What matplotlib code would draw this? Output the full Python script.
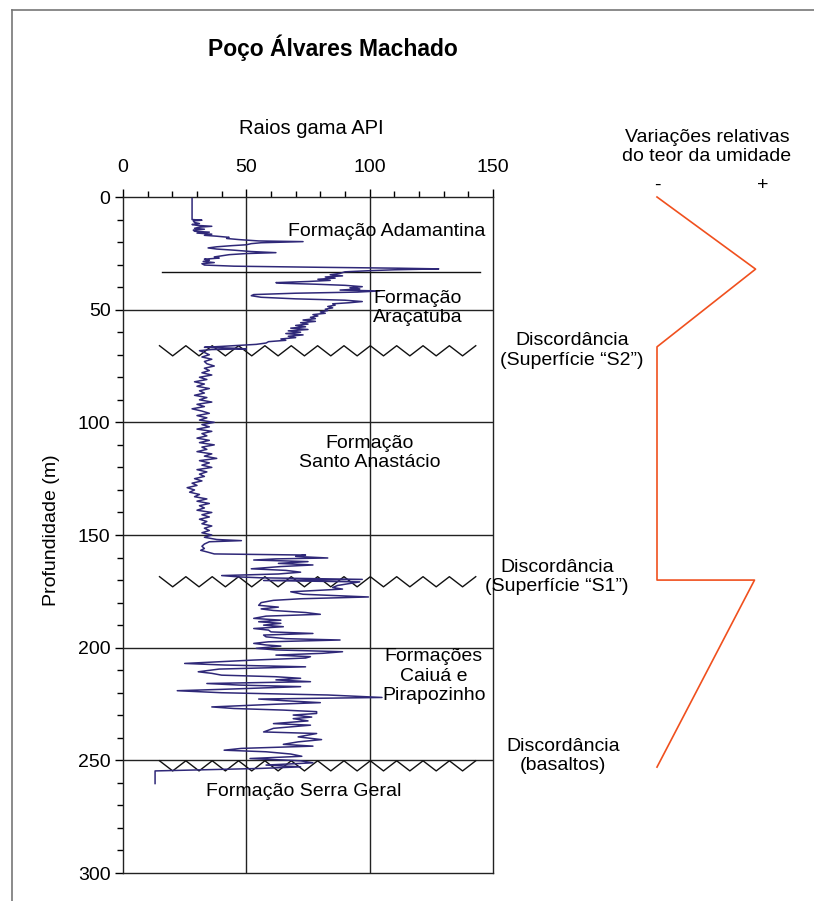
import numpy as np
import matplotlib
matplotlib.use("Agg")
import matplotlib.pyplot as plt
from matplotlib.lines import Line2D

plt.rcParams['font.family'] = ['Liberation Sans', 'DejaVu Sans']

# --- gamma-ray log (depth m, API) ---
depth_adamantina = [0.7, 10.0, 10.3, 10.6, 11.3, 11.8, 12.2, 12.6, 13.0, 13.4, 13.9, 14.3,
                    14.7, 15.2, 15.6, 16.0, 16.5, 17.0, 17.4, 17.9, 18.4, 18.9, 19.5, 19.8,
                    20.3, 20.7, 21.2, 21.6, 22.1, 22.6, 23.1, 23.6, 24.2, 24.7, 25.1, 25.6,
                    26.1, 26.6, 27.1, 27.6, 28.1, 28.6, 29.1, 29.6, 30.2, 30.7, 31.2, 31.6,
                    31.9, 32.3, 32.7, 33.2]
gr_adamantina = [28, 28, 32, 28.5, 29, 31, 28, 30, 36, 31, 29, 33,
                 28.5, 29, 35, 30, 36, 33, 38, 43, 42, 47, 55, 73,
                 56, 52, 50, 44, 38, 34.5, 38, 45, 52, 62, 50, 43,
                 40, 37, 39, 33, 35, 32.5, 37, 32, 33, 45, 80, 112,
                 128, 110, 100, 90]

depth_aracatuba = [33.9, 34.5, 35.0, 35.5, 36.0, 36.5, 37.0, 37.5, 38.0, 38.3, 38.7, 39.2,
                   39.8, 40.3, 40.8, 41.3, 41.7, 42.2, 42.7, 43.3, 43.8, 44.5, 45.2, 45.8,
                   46.4, 46.9, 47.4, 48.0, 48.6, 49.2, 49.8, 50.4, 51.0, 51.6, 52.2, 52.8,
                   53.4, 54.0, 54.6, 55.2, 55.8, 56.4, 57.0, 57.6, 58.2, 58.8, 59.4, 60.0,
                   60.6, 61.2, 61.8, 62.4, 63.0, 63.6, 64.2, 64.8, 65.4, 65.8, 66.3, 66.7,
                   67.1, 67.4, 67.7, 68.2]
gr_aracatuba = [88, 84, 89, 82, 86, 79, 84, 75, 62, 65, 78, 90,
                97, 92, 96, 88, 104, 95, 70, 53, 52, 56, 70, 90,
                97, 92, 85, 86, 83, 85, 82, 83, 80, 82, 77, 79,
                76, 78, 73, 78, 72, 75, 70, 74, 68, 75, 67, 72,
                66, 73, 67, 70, 64, 66, 59, 58, 54, 48, 40, 33,
                45, 50, 36, 31]

depth_santo = [69, 70, 71, 72, 73, 74, 75, 76, 77, 78, 79, 80, 81, 82, 83, 84, 85, 86,
               87, 88, 89, 90, 91, 92, 93, 94, 95, 96, 97, 98, 99, 100, 101, 102, 103,
               104, 105, 106, 107, 108, 109, 110, 111, 112, 113, 114, 115, 116, 117, 118,
               119, 120, 121, 122, 123, 124, 125, 126, 127, 128, 129, 130, 131, 132, 133,
               134, 135, 136, 137, 138, 139, 140, 141, 142, 143, 144, 145, 146, 147, 148,
               149, 150, 151, 152, 152.5, 153, 154]
gr_santo = [33, 35, 32, 36, 33, 34, 37, 33, 35, 32, 36, 31, 34, 29, 33, 30, 35, 31,
            33, 29, 34, 31, 36, 30, 33, 28, 32, 35, 30, 34, 31, 37, 32, 35, 30,
            36, 32, 34, 30, 35, 31, 37, 32, 34, 30, 36, 33, 38, 31, 35,
            32, 36, 30, 34, 31, 33, 29, 32, 28, 30, 26, 29, 27, 31, 29,
            34, 30, 35, 31, 33, 30, 36, 32, 35, 31, 34, 32, 36, 33, 35,
            32, 36, 33, 38, 48, 35, 33]

depth_caiua = [155.0, 156.0, 156.8, 157.5, 158.4, 158.9, 159.5, 160.2, 160.6, 161.1, 161.8,
               162.6, 163.3, 164.0, 165.0, 165.7, 166.5, 167.3, 168.0, 168.6, 169.0, 169.7,
               170.2, 170.8, 171.5, 172.4, 173.3, 174.0, 175.2, 176.3, 177.5, 178.3, 179.0,
               180.0, 181.2, 182.0, 182.8, 183.5, 184.4, 185.2, 186.0, 187.0, 187.8,
               188.5, 189.2, 190.0, 190.7, 191.5, 192.2, 193.0, 193.7, 194.4, 195.2, 196.0,
               196.6, 197.4, 198.1, 198.8, 199.3, 200.3, 201.0, 201.8, 202.5, 203.3, 204.0,
               204.6, 205.5, 206.2, 207.0, 207.7, 208.5, 209.5, 210.7, 211.4, 212.2, 212.9,
               213.6, 214.3, 215.1, 215.9, 216.6, 217.3, 218.5, 219.1, 220.0, 221.0, 222.1,
               222.8, 223.5, 224.4, 225.1, 226.3, 227.0, 227.7, 228.4, 229.2, 229.9, 230.8,
               231.5, 232.5, 233.7, 234.4, 235.8, 237.4, 238.1, 239.6, 240.8, 241.8, 242.9,
               243.7, 244.7, 245.5, 246.2, 247.2, 248.2, 249.2, 250.2, 251.1, 252.1, 252.9,
               253.6]
gr_caiua = [32, 33, 31.5, 34, 37, 74, 70, 83, 62, 53, 75,
            63, 77, 64, 52, 66, 72, 63, 40, 47, 56, 97,
            57, 96, 92, 87, 85, 89, 68, 73, 99.5, 72, 61,
            56, 55, 63, 56, 61, 74, 80, 58, 53, 64,
            55, 64, 57, 65, 53, 59, 60, 77, 57, 58, 66,
            88, 59, 53, 58, 64, 54, 62, 89, 81, 62, 76,
            74, 53, 40, 25, 41, 74, 39, 30.5, 36, 40, 62,
            72, 62, 76, 34, 47, 72, 40, 22, 40, 83, 105,
            55, 65, 80, 62, 36, 45, 65, 78.5, 78.5, 69, 76.5,
            69, 75, 61, 76, 61, 57, 78.5, 71, 80.5, 71, 65,
            77, 48, 41, 58, 68, 72.5, 51.5, 72, 77, 58, 72,
            55.5]

depth_serra = [254.7, 260.3]
gr_serra = [13, 13]

# --- relative moisture variation (0 = "-", 1 = "+") ---
moist_depth = [0, 32, 66.5, 170, 170, 253]
moist_value = [0, 0.93, 0, 0, 0.92, 0]

# boundaries
contact_depth = 33.1
unconformity_depths = [66.0, 168.5, 250.2]

W, H = 814, 901
fig = plt.figure(figsize=(W / 100, H / 100), dpi=100)


def fx(px):
    return px / W


def fy(py):
    return 1 - py / H


ax = fig.add_axes([fx(123), fy(873), fx(493) - fx(123), fy(197) - fy(873)])

depth = depth_adamantina + depth_aracatuba + depth_santo + depth_caiua + depth_serra
gr = gr_adamantina + gr_aracatuba + gr_santo + gr_caiua + gr_serra
ax.plot(gr, depth, color='#2f2878', lw=1.1, zorder=3)

ax.set_xlim(0, 150)
ax.set_ylim(300, 0)

# grid
for d in [50, 100, 150, 200, 250]:
    ax.axhline(d, color='#222222', lw=1.0, zorder=1)
for g in [50, 100]:
    ax.axvline(g, color='#222222', lw=1.0, zorder=1)

# contact line and unconformity zigzags
ax.plot([15.7, 144.7], [contact_depth, contact_depth], color='#111111', lw=1.0, zorder=2)
zx = np.linspace(14.8, 143.0, 25)
for d in unconformity_depths:
    zy = np.where(np.arange(25) % 2 == 0, d, d + 4.5)
    ax.plot(zx, zy, color='#111111', lw=1.0, zorder=2)

# axes styling
ax.xaxis.tick_top()
ax.set_xticks([0, 50, 100, 150])
ax.set_xticks(np.arange(0, 151, 10), minor=True)
ax.set_yticks([0, 50, 100, 150, 200, 250, 300])
ax.set_yticks(np.arange(0, 301, 10), minor=True)
ax.tick_params(axis='x', which='major', length=6, width=1, pad=9, labelsize=14)
ax.tick_params(axis='x', which='minor', length=4, width=1)
ax.tick_params(axis='y', which='major', length=6, width=1, pad=3, labelsize=14)
ax.tick_params(axis='y', which='minor', length=4, width=1)
for s in ax.spines.values():
    s.set_color('#222222')
    s.set_linewidth(1.0)

# labels inside the log
txt = dict(fontsize=14, ha='center', va='center', linespacing=1.2, zorder=4)
ax.text(107, 15.1, 'Formação Adamantina', **txt)
ax.text(119.6, 49.3, 'Formação\nAraçatuba', **txt)
ax.text(100, 113.6, 'Formação\nSanto Anastácio', **txt)
ax.text(126, 212.6, 'Formações\nCaiuá e\nPirapozinho', **txt)
ax.text(73.4, 264, 'Formação Serra Geral', **txt)
ax.text(182, 68, 'Discordância\n(Superfície “S2”)', **txt)
ax.text(176, 168.7, 'Discordância\n(Superfície “S1”)', **txt)
ax.text(178.4, 248, 'Discordância\n(basaltos)', **txt)

# moisture panel
ax2 = fig.add_axes([fx(657), fy(873), fx(763) - fx(657), fy(197) - fy(873)])
ax2.set_xlim(0, 1)
ax2.set_ylim(300, 0)
ax2.axis('off')
ax2.plot(moist_value, moist_depth, color='#f0501e', lw=1.2, clip_on=False)

fig.text(fx(657), fy(185), '-', fontsize=14, ha='center', va='center')
fig.text(fx(763), fy(185), '+', fontsize=14, ha='center', va='center')
fig.text(fx(707), fy(147), 'Variações relativas\ndo teor da umidade', fontsize=14,
         ha='center', va='center', linespacing=1.1)

fig.text(fx(333), fy(48), 'Poço Álvares Machado', fontsize=16.5, fontweight='bold',
         ha='center', va='center')
fig.text(fx(311), fy(128), 'Raios gama API', fontsize=14.5, ha='center', va='center')
fig.text(fx(52), fy(530), 'Profundidade (m)', fontsize=14, rotation=90,
         ha='center', va='center')

# outer frame (left and top edges)
for xs, ys in [([12, 12], [10, 901]), ([12, 814], [10, 10])]:
    fig.add_artist(Line2D([fx(x) for x in xs], [fy(y) for y in ys],
                          color='#777777', lw=1.2))

fig.savefig('out.png', dpi=100)
